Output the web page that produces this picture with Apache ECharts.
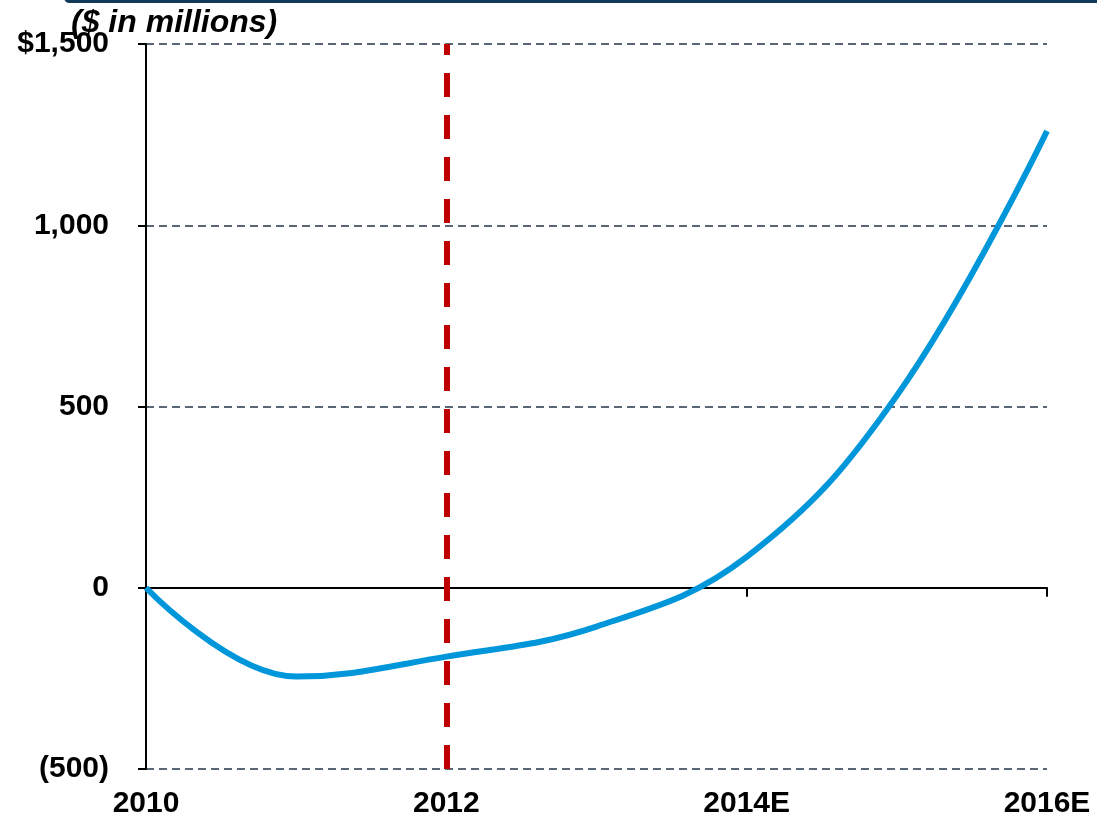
<!DOCTYPE html>
<html>
<head>
<meta charset="utf-8">
<title>Net income</title>
<script src="https://cdn.jsdelivr.net/npm/echarts@6/dist/echarts.min.js"></script>
<style>
  html, body { margin: 0; padding: 0; background: #fff; }
  #chart { width: 1097px; height: 819px; }
</style>
</head>
<body>
<div id="chart"></div>
<script>
// years on the x axis, E = estimate
const years = ['2010', '2011', '2012', '2013', '2014E', '2015E', '2016E']
// $ in millions
const values = [0, -245, -190, -107, 85, 530, 1260]
const yTicks = [-500, 0, 500, 1000, 1500]
const yTickLabels = ['(500)', '0', '500', '1,000', '$1,500']
const dividerYear = '2012'

const font = '"Liberation Sans", Arial, sans-serif'
const gridColor = '#5A6673'

const chart = echarts.init(document.getElementById('chart'))

chart.setOption({
  animation: false,
  title: {
    text: '($ in millions)',
    left: 66,
    top: 2,
    textStyle: {
      fontFamily: font,
      fontSize: 32,
      fontWeight: 'bold',
      fontStyle: 'italic',
      color: '#000'
    }
  },
  graphic: [{
    type: 'rect',
    z: -1,
    shape: { x: 64, y: -8, width: 1060, height: 11, r: 6 },
    style: { fill: '#143A5A' }
  }],
  grid: {
    left: 146,
    right: 50,
    top: 44,
    bottom: 50,
    containLabel: false
  },
  xAxis: [{
    type: 'category',
    data: years,
    boundaryGap: false,
    axisLine: { onZero: true, lineStyle: { color: '#000', width: 2 } },
    axisTick: { show: true, interval: 1, length: 9, lineStyle: { color: '#000', width: 2 } },
    axisLabel: { show: false },
    splitLine: { show: false }
  }, {
    type: 'category',
    data: years,
    boundaryGap: false,
    position: 'bottom',
    axisLine: { show: false, onZero: false },
    axisTick: { show: false },
    axisLabel: {
      interval: 1,
      margin: 20,
      color: '#000',
      fontFamily: font,
      fontSize: 30,
      fontWeight: 'bold'
    }
  }],
  yAxis: {
    type: 'value',
    min: yTicks[0],
    max: yTicks[yTicks.length - 1],
    interval: 500,
    axisLine: { show: true, lineStyle: { color: '#000', width: 2 } },
    axisTick: { show: true, length: 8, lineStyle: { color: '#000', width: 2 } },
    axisLabel: {
      margin: 37,
      color: '#000',
      fontFamily: font,
      fontSize: 30,
      fontWeight: 'bold',
      formatter: v => yTickLabels[yTicks.indexOf(v)]
    },
    splitLine: {
      show: true,
      lineStyle: { color: gridColor, width: 2, type: [8, 5] }
    }
  },
  series: [{
    type: 'line',
    data: values,
    smooth: 0.4,
    symbol: 'none',
    z: 3,
    lineStyle: { color: '#0096DA', width: 6 },
    markLine: {
      silent: true,
      symbol: 'none',
      label: { show: false },
      lineStyle: { color: '#C00000', width: 6, type: [24, 18] },
      data: [{ xAxis: dividerYear }]
    }
  }]
})
</script>
</body>
</html>
